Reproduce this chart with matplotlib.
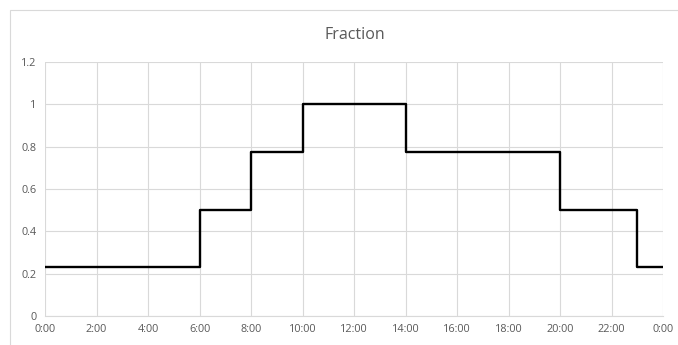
import matplotlib.pyplot as plt
from matplotlib.patches import Rectangle

# step edges (hours) and fraction values
horas = [0, 6, 8, 10, 14, 20, 23, 24]
fracao = [0.23, 0.5, 0.775, 1.0, 0.775, 0.5, 0.23, 0.23]

x_ticks = list(range(0, 25, 2))
x_labels = [f"{h % 24}:00" for h in x_ticks]
y_ticks = [0, 0.2, 0.4, 0.6, 0.8, 1.0, 1.2]
y_labels = ["0", "0.2", "0.4", "0.6", "0.8", "1", "1.2"]

plt.rcParams["font.family"] = ["Open Sans", "DejaVu Sans"]

fig = plt.figure(figsize=(6.78, 3.45), dpi=100)
ax = fig.add_axes([0.0664, 0.084, 0.9116, 0.736])

# chart frame like Excel
fig.patches.append(Rectangle((10 / 678, -0.1), 2, (345 - 10) / 345 + 0.1,
                             transform=fig.transFigure, fill=False,
                             edgecolor="#d9d9d9", linewidth=0.8))

ax.step(horas, fracao, where="post", color="black", linewidth=1.7, zorder=3)

ax.set_xlim(0, 24)
ax.set_ylim(0, 1.2)
ax.set_xticks(x_ticks)
ax.set_xticklabels(x_labels)
ax.set_yticks(y_ticks)
ax.set_yticklabels(y_labels)

ax.grid(True, color="#d9d9d9", linewidth=0.8)
ax.tick_params(length=0, labelsize=7.8, labelcolor="#595959", pad=6)
for side in ["top", "right", "left"]:
    ax.spines[side].set_visible(False)
ax.spines["bottom"].set_color("#d9d9d9")

fig.text(0.523, 0.898, "Fraction", ha="center", va="center",
         fontsize=11.5, color="#595959")

fig.savefig("out.png", dpi=100)
